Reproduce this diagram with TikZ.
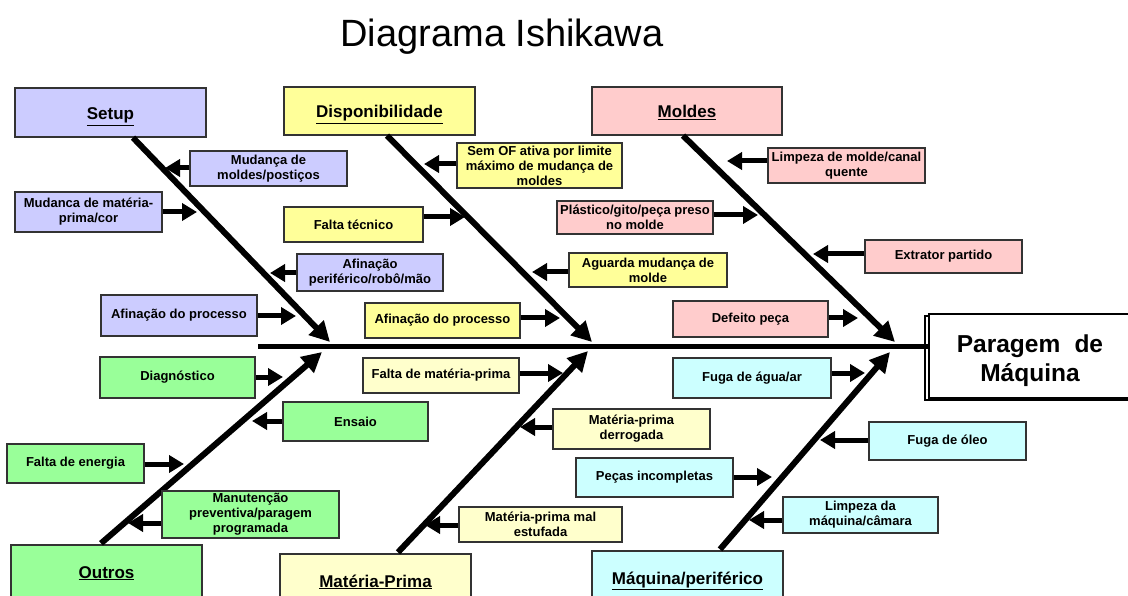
\documentclass[tikz,border=0pt]{standalone}
\usepackage{fontspec}
\setmainfont{Liberation Sans}
\usetikzlibrary{arrows.meta,calc}

\definecolor{setupc}{HTML}{CCCCFF}
\definecolor{dispc}{HTML}{FFFF99}
\definecolor{moldc}{HTML}{FFCCCC}
\definecolor{outc}{HTML}{99FF99}
\definecolor{mpc}{HTML}{FFFFCC}
\definecolor{maqc}{HTML}{CCFFFF}

\begin{document}
\begin{tikzpicture}[x=1pt,y=-1pt,
  sz/.style 2 args={minimum width=#1pt, minimum height=#2pt},
  box/.style={draw=black!80, line width=1.3pt, inner sep=0pt, align=center,
    font=\fontsize{13}{15}\selectfont\bfseries},
  cat/.style={draw=black!80, line width=1.3pt, inner sep=0pt, align=center,
    font=\fontsize{17}{20}\selectfont\bfseries},
  catlabel/.style={font=\fontsize{17}{20}\selectfont\bfseries, inner sep=0pt},
  sub/.style={line width=5pt, -{Triangle[length=15pt,width=17pt]}},
  bone/.style={line width=6pt, -{Triangle[length=20pt,width=20pt]}},
]
\clip (0,0) rectangle (1128,596);
\fill[white] (0,0) rectangle (1128,596);

% title
\node[anchor=base, font=\fontsize{38}{44}\selectfont] (title) at (502,47) {Diagrama Ishikawa};

% effect
\draw[line width=1.2pt, fill=white] (925,316) rectangle (1140,400);
\node[draw, line width=1.2pt, fill=white, sz={211}{84}] (effect) at (1034.5,356) {};
\node[align=center, inner sep=0pt, font=\fontsize{24.5}{29}\selectfont\bfseries]
  (effecttext) at (1030,361) {Paragem\hspace{0.3em} de\\Máquina};

% spine
\coordinate (spineL) at (258,346);
\draw[line width=5pt] (spineL) -- (effect.west |- spineL);

% categories
\node[cat, fill=setupc, sz={191}{49}] (setup) at (110.5,112.5) {};
\node[cat, fill=dispc, sz={191}{48}] (disp) at (379.5,111) {};
\node[cat, fill=moldc, sz={190}{48}] (molde) at (687,111) {};
\node[cat, fill=outc, sz={191}{52}] (outros) at (106.5,571) {};
\node[cat, fill=mpc, sz={191}{52}] (mp) at (375.5,580) {};
\node[cat, fill=maqc, sz={191}{52}] (maq) at (687.5,577) {};
\node[catlabel, anchor=base] (setupl) at (110.5,120) {\underline{Setup}};
\node[catlabel, anchor=base] (displ) at (379.5,118) {\underline{Disponibilidade}};
\node[catlabel, anchor=base] (moldel) at (687,118) {\underline{Moldes}};
\node[catlabel, anchor=base] (outrosl) at (106.5,578) {\underline{Outros}};
\node[catlabel, anchor=base] (mpl) at (375.5,587) {\underline{Matéria-Prima}};
\node[catlabel, anchor=base] (maql) at (687.5,584) {\underline{Máquina/periférico}};

% bone tips
\coordinate (b1) at (330,342);
\coordinate (b2) at (592,342);
\coordinate (b3) at (895,342);
\coordinate (b4) at (322,352);
\coordinate (b5) at (588,351);
\coordinate (b6) at (890,352);

\draw[bone] ($(setup.south)+(22.5,0)$) -- (b1);
\draw[bone] ($(disp.south)+(7.5,0)$) -- (b2);
\draw[bone] ($(molde.south)+(-4,0)$) -- (b3);
\draw[bone] ($(outros.north)+(-5.5,-1)$) -- (b4);
\draw[bone] ($(mp.north)+(22.5,-1)$) -- (b5);
\draw[bone] ($(maq.north)+(32.5,-1)$) -- (b6);

% Setup causes
\node[box, fill=setupc, sz={157}{35}] (m1) at (268.5,168.5) {Mudança de\\moldes/postiços};
\node[box, fill=setupc, sz={147}{40}] (m2) at (88.5,212) {Mudanca de matéria-\\prima/cor};
\node[box, fill=setupc, sz={146}{37}] (m3) at (370,272.5) {Afinação\\periférico/robô/mão};
\node[box, fill=setupc, sz={156}{41}] (m4) at (179,315.5) {Afinação do processo};

% Disponibilidade causes
\node[box, fill=dispc, sz={165}{45}] (d1) at (539.5,165.5) {Sem OF ativa por limite\\máximo de mudança de\\moldes};
\node[box, fill=dispc, sz={139}{35}] (d2) at (353.5,224.5) {Falta técnico};
\node[box, fill=dispc, sz={158}{34}] (d3) at (648,270) {Aguarda mudança de\\molde};
\node[box, fill=dispc, sz={155}{35}] (d4) at (442.5,320.5) {Afinação do processo};

% Moldes causes
\node[box, fill=moldc, sz={157}{35}] (l1) at (846.5,165.5) {Limpeza de molde/canal\\quente};
\node[box, fill=moldc, sz={156}{33}] (l2) at (635,217.5) {Plástico/gito/peça preso\\no molde};
\node[box, fill=moldc, sz={157}{33}] (l3) at (943.5,256.5) {Extrator partido};
\node[box, fill=moldc, sz={155}{36}] (l4) at (750.5,319) {Defeito peça};

% Outros causes
\node[box, fill=outc, sz={155}{41}] (o1) at (177.5,377.5) {Diagnóstico};
\node[box, fill=outc, sz={145}{39}] (o2) at (355.5,421.5) {Ensaio};
\node[box, fill=outc, sz={137}{39}] (o3) at (75.5,463.5) {Falta de energia};
\node[box, fill=outc, sz={177}{47}] (o4) at (250.5,514.5) {Manutenção\\preventiva/paragem\\programada};

% Matéria-Prima causes
\node[box, fill=mpc, sz={156}{35}] (p1) at (441,375.5) {Falta de matéria-prima};
\node[box, fill=mpc, sz={157}{40}] (p2) at (631.5,429) {Matéria-prima\\derrogada};
\node[box, fill=mpc, sz={163}{35}] (p3) at (540.5,524.5) {Matéria-prima mal\\estufada};

% Máquina/periférico causes
\node[box, fill=maqc, sz={158}{40}] (q1) at (752,378) {Fuga de água/ar};
\node[box, fill=maqc, sz={157}{38}] (q2) at (947.5,441) {Fuga de óleo};
\node[box, fill=maqc, sz={157}{39}] (q3) at (654.5,477.5) {Peças incompletas};
\node[box, fill=maqc, sz={155}{36}] (q4) at (860.5,515) {Limpeza da\\máquina/câmara};

% cause arrow tips
\coordinate (m1a) at (165,168);
\coordinate (m2a) at (197,212);
\coordinate (m3a) at (270,273);
\coordinate (m4a) at (296,316);
\coordinate (d1a) at (424,164);
\coordinate (d2a) at (465,217);
\coordinate (d3a) at (532,272);
\coordinate (d4a) at (560,318);
\coordinate (l1a) at (727,161);
\coordinate (l2a) at (758,215);
\coordinate (l3a) at (813,254);
\coordinate (l4a) at (858,318);
\coordinate (o1a) at (283,377);
\coordinate (o2a) at (252,421);
\coordinate (o3a) at (184,464);
\coordinate (o4a) at (128,523);
\coordinate (p1a) at (563,373);
\coordinate (p2a) at (520,427);
\coordinate (p3a) at (425,525);
\coordinate (q1a) at (865,373);
\coordinate (q2a) at (820,440);
\coordinate (q3a) at (772,477);
\coordinate (q4a) at (749,520);

% cause arrows
\foreach \n in {m1,m3,d1,d3,l1,l3,o2,o4,p2,p3,q2,q4}
  \draw[sub] (\n.west |- \n a) -- (\n a);
\foreach \n in {m2,m4,d2,d4,l2,l4,o1,o3,p1,q1,q3}
  \draw[sub] (\n.east |- \n a) -- (\n a);
\end{tikzpicture}
\end{document}
